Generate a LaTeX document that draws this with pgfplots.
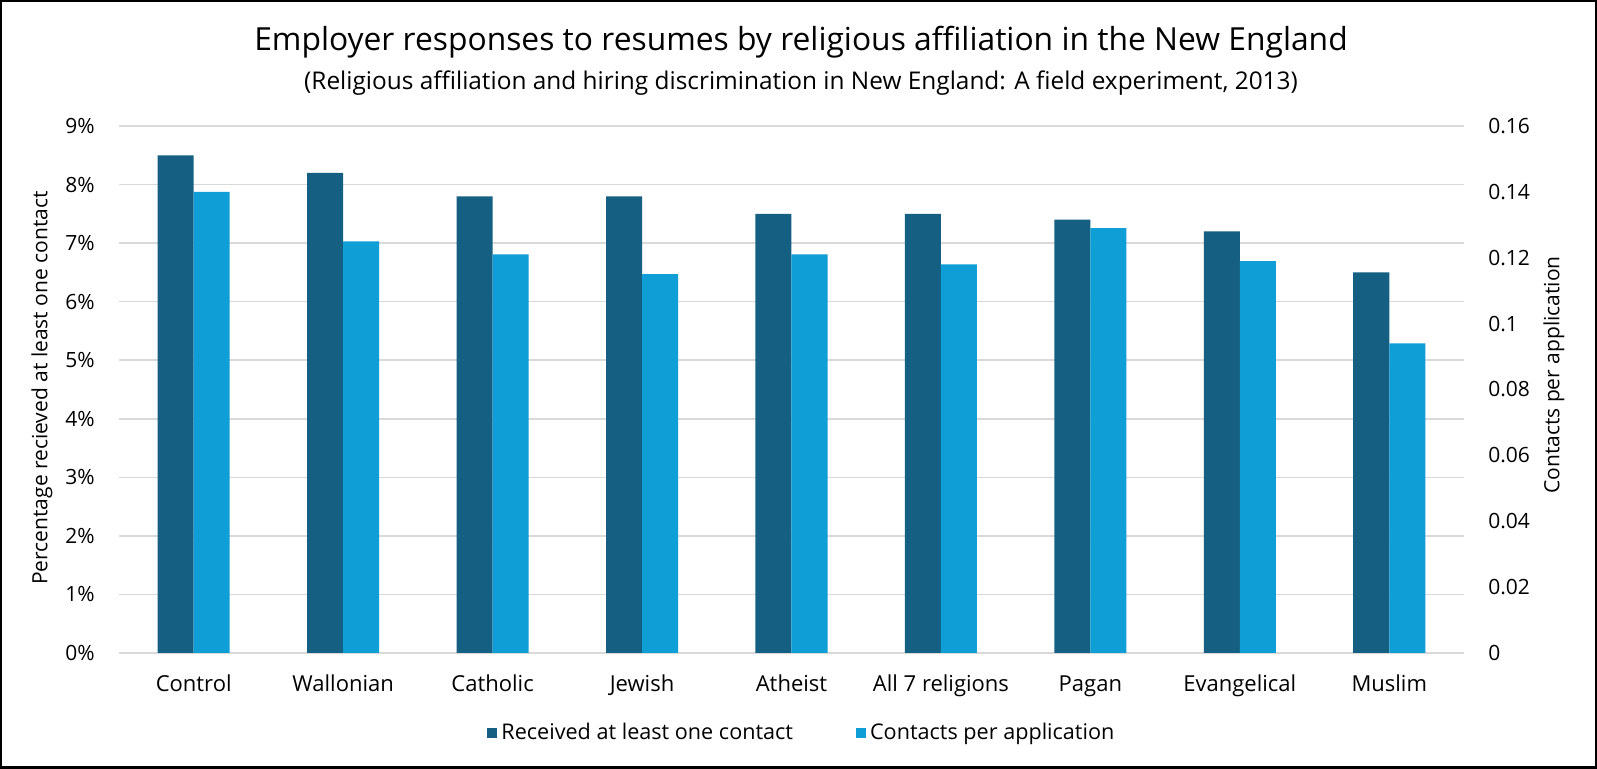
\documentclass[border=0pt]{standalone}
\usepackage{fontspec}
\setmainfont{Open Sans}
\usepackage{pgfplots}
\pgfplotsset{compat=1.18}
\definecolor{cdark}{RGB}{21,96,130}
\definecolor{clight}{RGB}{15,158,213}
\definecolor{cgrid}{RGB}{217,217,217}
\begin{document}
\begin{tikzpicture}
\path[use as bounding box] (-59.5pt,-58pt) rectangle (739pt,326.5pt);
\fill[white] (-59.5pt,-58pt) rectangle (739pt,326.5pt);
\pgfplotsset{
  common/.style={
    at={(0pt,0pt)}, anchor=south west, scale only axis,
    width=672.5pt, height=263.5pt,
    xmin=-0.5, xmax=8.5, ymin=0,
    axis line style={draw=none},
    major tick length=0pt,
    scaled y ticks=false, scaled x ticks=false,
    /pgf/number format/assume math mode=true,
    tick label style={font=\fontsize{10.5}{12}\selectfont, text=black},
    ybar, bar width=0.241,
  }
}
\begin{axis}[common,
  ymax=9, ytick={0,1,2,3,4,5,6,7,8,9},
  yticklabel={\pgfmathprintnumber{\tick}\%},
  yticklabel style={anchor=east, inner sep=0pt, xshift=-12pt},
  ymajorgrids, grid style={cgrid, line width=0.75pt},
  xtick={0,1,2,3,4,5,6,7,8},
  xticklabels={Control, Wallonian, Catholic, Jewish, Atheist, All 7 religions, Pagan, Evangelical, Muslim},
  xticklabel style={anchor=base, yshift=-19.25pt, inner sep=0pt, font=\fontsize{11}{13}\selectfont},
]
\addplot[fill=cdark, draw=none, bar shift=-0.1205] coordinates {
  (0,8.5) (1,8.2) (2,7.8) (3,7.8) (4,7.5) (5,7.5) (6,7.4) (7,7.2) (8,6.5)};
\end{axis}
\begin{axis}[common,
  ymax=0.16, ytick={0,0.02,0.04,0.06,0.08,0.1,0.12,0.14,0.16},
  yticklabels={0,0.02,0.04,0.06,0.08,0.1,0.12,0.14,0.16},
  yticklabel pos=right,
  yticklabel style={anchor=west, inner sep=0pt, xshift=12pt},
  xtick=\empty,
  legend columns=2,
  legend style={at={(axis description cs:0.5085,-0.1518)}, anchor=center, draw=none,
    font=\fontsize{10.8}{13}\selectfont, column sep=0pt,
    /tikz/every even column/.append style={column sep=29.5pt}},
  legend cell align=left,
  legend image code/.code={\fill[#1] (0pt,-2.5pt) rectangle (5pt,2.5pt);},
]
\addlegendimage{fill=cdark, draw=none}
\addlegendentry{Received at least one contact}
\addplot[fill=clight, draw=none, bar shift=0.1205] coordinates {
  (0,0.140) (1,0.125) (2,0.121) (3,0.115) (4,0.121) (5,0.118) (6,0.129) (7,0.119) (8,0.094)};
\addlegendentry{Contacts per application}
\end{axis}
\node[rotate=90, anchor=center, font=\fontsize{10.5}{12}\selectfont] at (-38.5pt,132.5pt)
  {Percentage recieved at least one contact};
\node[rotate=90, anchor=center, font=\fontsize{10.5}{12}\selectfont] at (717.5pt,139pt)
  {Contacts per application};
\node[anchor=base, font=\fontsize{15.9}{18}\selectfont] at (341pt,301pt)
  {Employer responses to resumes by religious affiliation in the New England};
\node[anchor=base, font=\fontsize{12.2}{14}\selectfont] at (341pt,281.5pt)
  {(Religious affiliation and hiring discrimination in New England: A field experiment, 2013)};
\draw[black, line width=1.25pt] (-58.875pt,-57.375pt) rectangle (738.375pt,325.875pt);
\end{tikzpicture}
\end{document}
